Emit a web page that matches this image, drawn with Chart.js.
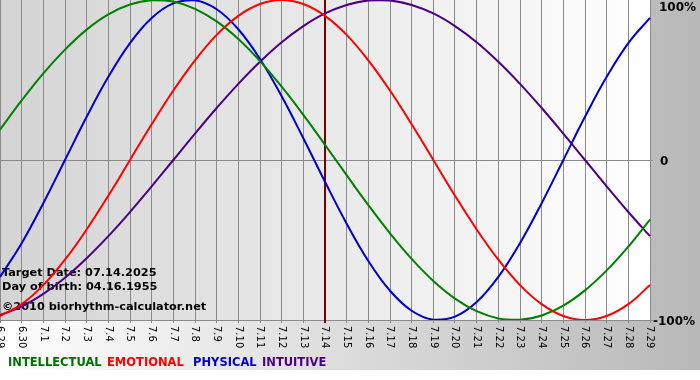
<!DOCTYPE html>
<html><head><meta charset="utf-8">
<script src="https://cdn.jsdelivr.net/npm/chart.js@4"></script>
<style>html,body{margin:0;padding:0;background:#fff}#wrap{width:700px;height:380px;position:relative}</style>
</head><body><div id="wrap"><canvas id="c" width="700" height="380"></canvas></div>
<script>
const dayLabels = ["6.29","6.30","7.1","7.2","7.3","7.4","7.5","7.6","7.7","7.8","7.9","7.10","7.11","7.12","7.13","7.14","7.15","7.16","7.17","7.18","7.19","7.20","7.21","7.22","7.23","7.24","7.25","7.26","7.27","7.28","7.29"];
const seriesNames = ["INTELLECTUAL","EMOTIONAL","PHYSICAL","INTUITIVE"];
const intellectual = [0.189,0.372,0.541,0.690,0.815,0.910,0.972,0.999,0.990,0.945,0.866,0.756,0.618,0.458,0.282,0.095,-0.095,-0.282,-0.458,-0.618,-0.756,-0.866,-0.945,-0.990,-0.999,-0.972,-0.910,-0.815,-0.690,-0.541,-0.372];
const emotional = [-0.975,-0.901,-0.782,-0.623,-0.434,-0.223,0,0.223,0.434,0.623,0.782,0.901,0.975,1.0,0.975,0.901,0.782,0.623,0.434,0.223,0,-0.223,-0.434,-0.623,-0.782,-0.901,-0.975,-1.0,-0.975,-0.901,-0.782];
const physical = [-0.731,-0.520,-0.270,0,0.270,0.520,0.731,0.888,0.979,0.998,0.942,0.817,0.631,0.398,0.136,-0.136,-0.398,-0.631,-0.817,-0.942,-0.998,-0.979,-0.888,-0.731,-0.520,-0.270,0,0.270,0.520,0.731,0.888];
const intuitive = [-0.969,-0.916,-0.837,-0.736,-0.614,-0.476,-0.325,-0.165,0,0.165,0.325,0.476,0.614,0.736,0.837,0.916,0.969,0.997,0.997,0.969,0.916,0.837,0.736,0.614,0.476,0.325,0.165,0,-0.165,-0.325,-0.476];
const yTickLabels = ["100%","0","-100%"];
const yTickValues = [1,0,-1];
const targetLabel = "7.14";
const infoLines = ["Target Date: 07.14.2025","Day of birth: 04.16.1955","©2010 biorhythm-calculator.net"];

const seriesColors = ["#008000","#ff0000","#0000cc","#4b0082"];
const legendColors = ["#007000","#ff0000","#0000cc","#4b0082"];

const bgPlugin = {
  id:'bg',
  beforeDraw(chart){
    const ctx = chart.ctx, a = chart.chartArea;
    ctx.save();
    let g = ctx.createLinearGradient(0,0,700,0);
    g.addColorStop(0,'#ffffff'); g.addColorStop(1,'#b8b8b8');
    ctx.fillStyle = g; ctx.fillRect(0,0,700,370);
    ctx.fillStyle = '#ffffff'; ctx.fillRect(0,370,700,10);
    g = ctx.createLinearGradient(a.left,0,a.right,0);
    g.addColorStop(0,'#d4d4d4'); g.addColorStop(1,'#ffffff');
    ctx.fillStyle = g; ctx.fillRect(a.left,a.top,a.right-a.left,a.bottom-a.top);
    ctx.restore();
  },
  beforeDatasetsDraw(chart){
    const ctx = chart.ctx, x = chart.scales.x, a = chart.chartArea;
    ctx.save();
    const px = Math.round(x.getPixelForValue(dayLabels.indexOf(targetLabel)));
    ctx.fillStyle = '#7a0000';
    ctx.fillRect(px-1, a.top, 2, a.bottom - a.top + 3);
    ctx.fillStyle = '#000';
    ctx.font = 'bold 11.3px "DejaVu Sans"';
    ctx.textBaseline = 'alphabetic';
    ctx.fillText(infoLines[0], 2, 276);
    ctx.fillText(infoLines[1], 2, 290);
    ctx.fillText(infoLines[2], 2, 310);
    ctx.restore();
  },
  afterDraw(chart){
    const ctx = chart.ctx, x = chart.scales.x, y = chart.scales.y, a = chart.chartArea;
    ctx.save();
    ctx.fillStyle = '#000';
    ctx.font = '10px "DejaVu Sans"';
    dayLabels.forEach((l,i)=>{
      const px = x.getPixelForValue(i);
      ctx.save();
      ctx.translate(px, a.bottom + 6);
      ctx.rotate(Math.PI/2);
      ctx.textAlign = 'left'; ctx.textBaseline = 'middle';
      ctx.fillText(l, 0, 0);
      ctx.restore();
    });
    ctx.font = 'bold 12px "DejaVu Sans"';
    ctx.textBaseline = 'middle'; ctx.textAlign = 'left';
    const offs = [8, 2, 2];
    const xs = [659, 660, 653];
    yTickValues.forEach((v,i)=>{
      ctx.fillText(yTickLabels[i], xs[i], y.getPixelForValue(v) + offs[i]);
    });
    ctx.font = 'bold 11.5px "DejaVu Sans"';
    ctx.textBaseline = 'alphabetic';
    const lxs = [8, 107, 193, 262];
    seriesNames.forEach((n,i)=>{
      ctx.fillStyle = legendColors[i];
      ctx.fillText(n, lxs[i], 366);
    });
    ctx.restore();
  }
};

new Chart(document.getElementById('c'), {
  type:'line',
  data:{
    labels: dayLabels,
    datasets:[
      {label:seriesNames[0], data:intellectual, borderColor:seriesColors[0]},
      {label:seriesNames[1], data:emotional, borderColor:seriesColors[1]},
      {label:seriesNames[2], data:physical, borderColor:seriesColors[2]},
      {label:seriesNames[3], data:intuitive, borderColor:seriesColors[3]}
    ].map(d=>Object.assign(d,{borderWidth:2, pointRadius:0, tension:0.4, fill:false}))
  },
  options:{
    responsive:false, animation:false, devicePixelRatio:1,
    layout:{padding:0},
    plugins:{legend:{display:false}, tooltip:{enabled:false}},
    scales:{
      x:{
        type:'category', offset:false,
        grid:{color:'#8a8a8a', lineWidth:1, drawTicks:true, tickLength:3},
        border:{display:false},
        ticks:{display:false, autoSkip:false},
        afterFit(s){ s.height = 60; }
      },
      y:{
        position:'right', min:-1, max:1,
        grid:{color:(c)=> c.tick && c.tick.value === 1 ? 'rgba(0,0,0,0)' : '#8a8a8a', drawTicks:true, tickLength:3},
        border:{display:false},
        ticks:{display:false, stepSize:1},
        afterFit(s){ s.width = 50; }
      }
    }
  },
  plugins:[bgPlugin]
});
</script></body></html>
